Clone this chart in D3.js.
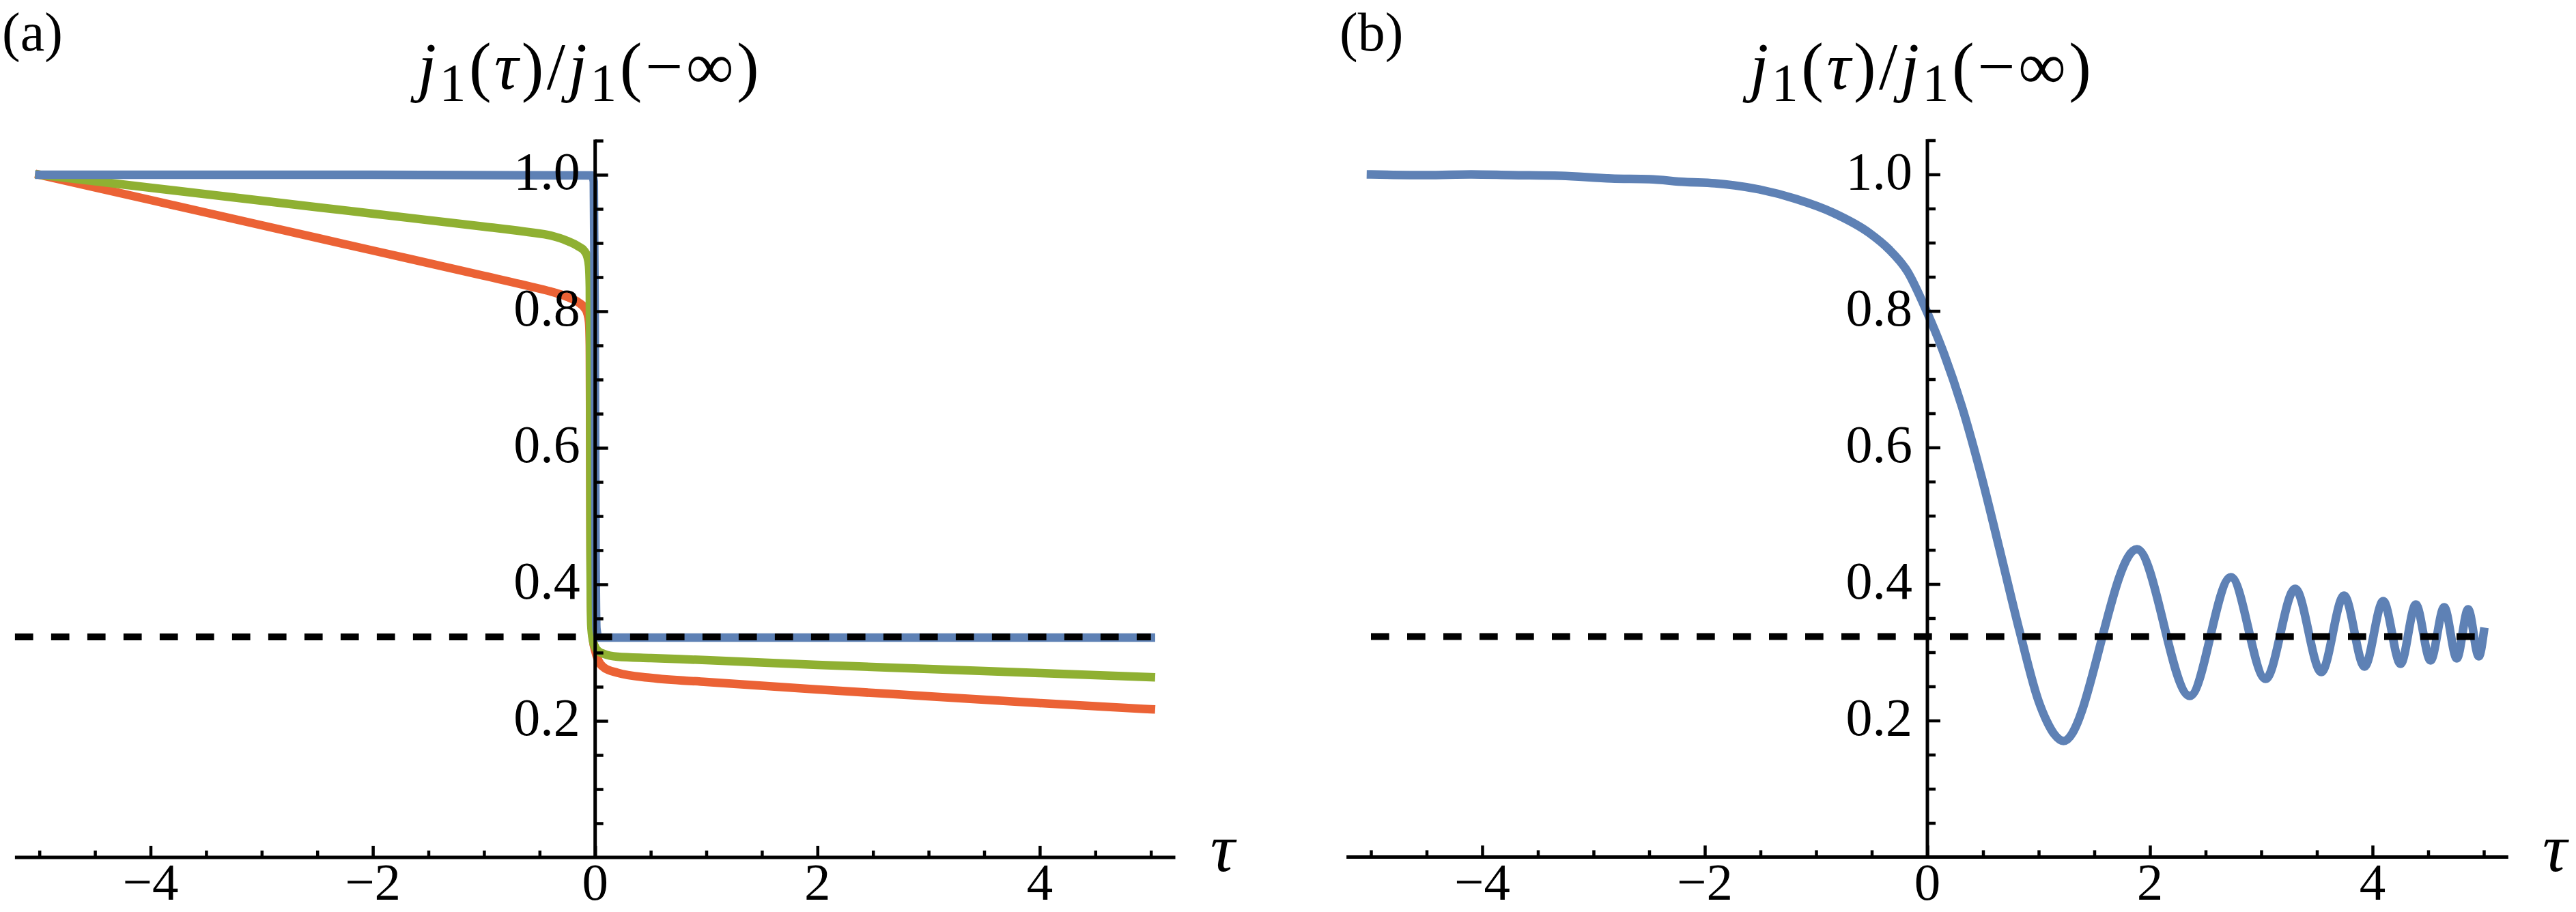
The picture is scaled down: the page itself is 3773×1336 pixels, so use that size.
<!DOCTYPE html>
<html><head><meta charset="utf-8">
<script src="https://cdn.jsdelivr.net/npm/d3@7"></script>
<style>
html,body{margin:0;padding:0;background:#fff;overflow:hidden}
text{font-family:"Liberation Serif","Times New Roman",Times,"DejaVu Serif",serif;}
</style>
</head><body>
<svg id="chart" width="3773" height="1336" xmlns="http://www.w3.org/2000/svg"></svg>
<script>
// ---------- data ----------
// Panel (a): shared tau grid for the green and red curves
const tauA = [-5, -4, -3, -2, -1, -0.6, -0.4, -0.25, -0.15, -0.1, -0.07, -0.055, -0.048, -0.045, -0.042, -0.035, -0.02, 0, 0.03, 0.08, 0.2, 0.5, 1, 2, 3, 4, 5];
const greenA = [1.0, 0.981, 0.962, 0.943, 0.924, 0.916, 0.911, 0.903, 0.895, 0.889, 0.880, 0.866, 0.835, 0.70, 0.45, 0.34, 0.318, 0.308, 0.302, 0.298, 0.294, 0.292, 0.289, 0.282, 0.276, 0.270, 0.264];
const redA   = [1.0, 0.963, 0.926, 0.889, 0.852, 0.837, 0.829, 0.821, 0.813, 0.806, 0.797, 0.784, 0.750, 0.62, 0.48, 0.36, 0.32, 0.303, 0.288, 0.278, 0.2705, 0.263, 0.257, 0.246, 0.236, 0.226, 0.217];
// Panel (a): blue (step) curve
const tauBlueA = [-5, -2, -0.03, -0.012, -0.004, 0.004, 0.012, 0.03, 2, 5];
const blueA    = [1.0, 1.0, 0.999, 0.99, 0.8, 0.45, 0.335, 0.322, 0.322, 0.322];
// Panel (b): blue oscillating curve
const tauB = [-5, -4.5, -4.1, -3.74, -3.3, -2.84, -2.5, -2.18, -1.91, -1.51, -1.18, -0.85, -0.52, -0.35, -0.18, 0, 0.15, 0.31, 0.49, 0.65, 0.83, 1.0, 1.07, 1.14, 1.223, 1.883, 2.358, 2.727, 3.039, 3.305, 3.540, 3.744, 3.928, 4.096, 4.252, 4.389, 4.521, 4.644, 4.757, 4.859, 4.955, 5.0];
const blueB = [1.0, 0.999, 1.0, 0.999, 0.998, 0.994, 0.993, 0.989, 0.987, 0.978, 0.964, 0.944, 0.914, 0.891, 0.858, 0.797, 0.737, 0.660, 0.555, 0.450, 0.330, 0.228, 0.200, 0.180, 0.170, 0.451, 0.236, 0.410, 0.261, 0.393, 0.271, 0.383, 0.279, 0.375, 0.283, 0.370, 0.288, 0.366, 0.291, 0.363, 0.294, 0.330];
// asymptote (dashed line)
const asymptote = 0.323;
const asymptoteSpanA = [-5.22, 5];
const asymptoteSpanB = [-5, 5];
// axes / ticks
const xDomain = [-5.22, 5.22];
const yDomain = [0, 1.0515];
const xMajorTicks = [-4, -2, 0, 2, 4];
const xMinorTicks = [-5, -4.5, -3.5, -3, -2.5, -1.5, -1, -0.5, 0.5, 1, 1.5, 2.5, 3, 3.5, 4.5, 5];
const xTickLabels = ["\u22124", "\u22122", "0", "2", "4"];
const yMajorTicks = [0.2, 0.4, 0.6, 0.8, 1.0];
const yMinorTicks = [0.05, 0.1, 0.15, 0.25, 0.3, 0.35, 0.45, 0.5, 0.55, 0.65, 0.7, 0.75, 0.85, 0.9, 0.95, 1.05];
const yTickLabels = ["0.2", "0.4", "0.6", "0.8", "1.0"];
const panelLabels = ["(a)", "(b)"];
const xAxisLabel = "\u03C4";
const titleParts = [{t:"j",i:true},{t:"1",sub:true},{t:"("},{t:"\u03C4",i:true},{t:")/"},{t:"j",i:true},{t:"1",sub:true},{t:"(\u2212\u221E)"}];

const colors = {blue:"#5E81B5", green:"#8FB032", red:"#EB6235"};

// ---------- drawing ----------
const svg = d3.select("#chart");
svg.append("rect").attr("width",3773).attr("height",1336).attr("fill","#fff");

function zip(t, v){ return t.map((d,i)=>[d, v[i]]); }

function drawPanel(cfg){
  const x = d3.scaleLinear().domain(xDomain).range([cfg.x0 - cfg.unit*5.22, cfg.x0 + cfg.unit*5.22]);
  const y = d3.scaleLinear().domain(yDomain).range([cfg.y0, cfg.y0 - 1000*yDomain[1]]);
  const g = svg.append("g");

  const line = d3.line().x(d=>x(d[0])).y(d=>y(d[1])).curve(d3.curveMonotoneX);
  cfg.series.forEach(s=>{
    g.append("path").attr("d", line(s.data)).attr("fill","none")
      .attr("stroke", s.color).attr("stroke-width", 12.5)
      .attr("stroke-linecap","square").attr("stroke-linejoin","round");
  });

  // dashed asymptote
  g.append("line")
    .attr("x1", x(cfg.span[0])).attr("x2", x(cfg.span[1]))
    .attr("y1", y(asymptote)).attr("y2", y(asymptote))
    .attr("stroke","#000").attr("stroke-width",10)
    .attr("stroke-dasharray","26.7 26.3");

  // axes lines
  g.append("line").attr("x1", x(xDomain[0])).attr("x2", x(xDomain[1]))
    .attr("y1", y(0)).attr("y2", y(0)).attr("stroke","#000").attr("stroke-width",5);
  g.append("line").attr("x1", x(0)).attr("x2", x(0))
    .attr("y1", y(yDomain[0]) + 2).attr("y2", y(yDomain[1])).attr("stroke","#000").attr("stroke-width",5);

  // x ticks (pointing up)
  const xa = g.append("g").attr("transform",`translate(0,${y(0)})`);
  xa.append("g").call(d3.axisTop(x).tickValues(xMinorTicks).tickSize(10).tickSizeOuter(0).tickFormat(""));
  xa.append("g").call(d3.axisTop(x).tickValues(xMajorTicks).tickSize(17).tickSizeOuter(0).tickFormat(""));
  xa.selectAll(".domain").remove();
  xa.selectAll(".tick line").attr("stroke","#000").attr("stroke-width",4.5);

  // y ticks (pointing right)
  const ya = g.append("g").attr("transform",`translate(${x(0)},0)`);
  ya.append("g").call(d3.axisRight(y).tickValues(yMinorTicks).tickSize(12).tickSizeOuter(0).tickFormat(""));
  ya.append("g").call(d3.axisRight(y).tickValues(yMajorTicks).tickSize(19).tickSizeOuter(0).tickFormat(""));
  ya.selectAll(".domain").remove();
  ya.selectAll(".tick line").attr("stroke","#000").attr("stroke-width",4.5);

  // tick labels
  g.selectAll(".xl").data(xMajorTicks).join("text")
    .attr("x", d=>x(d)).attr("y", 1318).attr("text-anchor","middle")
    .attr("font-size",77).text((d,i)=>xTickLabels[i]);
  g.selectAll(".yl").data(yMajorTicks).join("text")
    .attr("x", x(0) - 22).attr("y", d=>y(d)+21).attr("text-anchor","end")
    .attr("font-size",78).text((d,i)=>yTickLabels[i]);

  // axis label tau
  g.append("text").attr("x", x(0) + 901).attr("y", 1276)
    .attr("font-size",100).attr("font-style","italic").text(xAxisLabel);

  // title
  const tt = g.append("text").attr("x", x(0) - 260).attr("y", 130)
    .attr("font-size",98).attr("textLength",500).attr("lengthAdjust","spacing");
  let shifted = false;
  titleParts.forEach(p=>{
    const ts = tt.append("tspan").text(p.t);
    if (p.i) ts.attr("font-style","italic");
    if (p.sub){ ts.attr("font-size",78).attr("dy",17); shifted = true; }
    else if (shifted){ ts.attr("dy",-17); shifted = false; }
  });

  // panel label
  g.append("text").attr("x", cfg.labelX).attr("y", 74)
    .attr("font-size",80).text(cfg.label);
}

drawPanel({
  x0: 871.7, y0: 1256, unit: 162.8, label: panelLabels[0], labelX: 3, span: asymptoteSpanA,
  series: [
    {color: colors.red, data: zip(tauA, redA)},
    {color: colors.green, data: zip(tauA, greenA)},
    {color: colors.blue, data: zip(tauBlueA, blueA)}
  ]
});
drawPanel({
  x0: 2823, y0: 1255.5, unit: 163, label: panelLabels[1], labelX: 1962, span: asymptoteSpanB,
  series: [
    {color: colors.blue, data: zip(tauB, blueB)}
  ]
});
</script>
</body></html>
